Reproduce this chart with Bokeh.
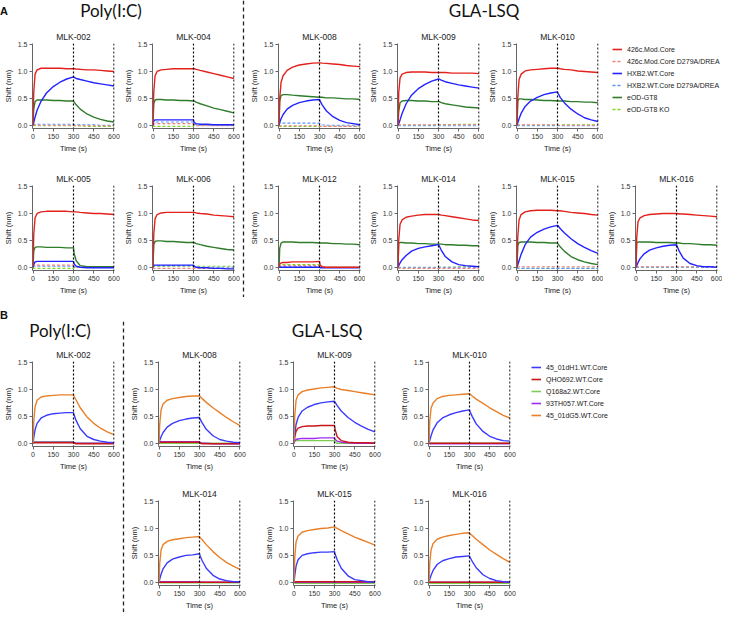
from bokeh.plotting import figure
from bokeh.models import Range1d, FixedTicker, Span, Legend, LegendItem, Div, Spacer
from bokeh.layouts import row, column
from bokeh.embed import file_html
from bokeh.resources import INLINE

# ---------------- data ----------------
T = [0, 5, 15, 30, 60, 100, 150, 200, 250, 300, 305, 320, 350, 400, 450, 500, 550, 600]
xticks = [0, 150, 300, 450, 600]
xtick_labels = ["0", "150", "300", "450", "600"]
yticks = [0.0, 0.5, 1.0, 1.5]
ytick_labels = ["0.0", "0.5", "1.0", "1.5"]
phase_marks = [300, 600]

legend_A = ["426c.Mod.Core", "426c.Mod.Core D279A/DREA", "HXB2.WT.Core",
            "HXB2.WT.Core D279A/DREA", "eOD-GT8", "eOD-GT8 KO"]
legend_B = ["45_01dH1.WT.Core", "QHO692.WT.Core", "Q168a2.WT.Core",
            "93TH057.WT.Core", "45_01dG5.WT.Core"]

# Panel A: Poly(I:C)
a002_red    = [0, 0.60, 0.95, 1.03, 1.06, 1.06, 1.06, 1.06, 1.05, 1.05, 1.05, 1.045, 1.04, 1.03, 1.03, 1.02, 1.01, 1.00]
a002_red_d  = [0, 0.01, 0.01, 0.00, 0.00, 0.00, 0.00, 0.00, 0.00, 0.00, -0.01, -0.01, -0.01, -0.01, -0.01, -0.01, -0.01, -0.01]
a002_blue   = [0, 0.05, 0.15, 0.28, 0.45, 0.60, 0.72, 0.80, 0.86, 0.90, 0.89, 0.87, 0.85, 0.82, 0.79, 0.77, 0.75, 0.73]
a002_blue_d = [0, 0.02, 0.02, 0.02, 0.02, 0.02, 0.02, 0.02, 0.02, 0.02, 0.01, 0.01, 0.01, 0.01, 0.01, 0.00, 0.00, 0.00]
a002_green  = [0, 0.30, 0.44, 0.47, 0.47, 0.47, 0.46, 0.46, 0.45, 0.45, 0.43, 0.38, 0.30, 0.21, 0.15, 0.11, 0.08, 0.06]
a002_lime_d = [0, 0.00, -0.01, -0.01, -0.01, -0.01, -0.01, -0.01, -0.01, -0.01, -0.01, -0.01, -0.01, -0.02, -0.02, -0.02, -0.02, -0.02]

a004_red    = [0, 0.60, 0.92, 1.00, 1.03, 1.04, 1.05, 1.05, 1.05, 1.05, 1.05, 1.04, 1.02, 0.99, 0.96, 0.93, 0.90, 0.87]
a004_red_d  = [0, 0.02, 0.03, 0.03, 0.03, 0.03, 0.03, 0.03, 0.03, 0.03, 0.00, -0.01, -0.01, -0.01, -0.01, -0.01, -0.01, -0.01]
a004_blue   = [0, 0.08, 0.10, 0.10, 0.10, 0.10, 0.10, 0.10, 0.10, 0.10, 0.05, 0.03, 0.02, 0.02, 0.01, 0.01, 0.01, 0.01]
a004_blue_d = [0, 0.05, 0.06, 0.06, 0.06, 0.06, 0.06, 0.06, 0.06, 0.06, 0.02, 0.01, 0.00, 0.00, 0.00, 0.00, 0.00, 0.00]
a004_green  = [0, 0.40, 0.47, 0.48, 0.48, 0.47, 0.47, 0.46, 0.46, 0.45, 0.45, 0.43, 0.40, 0.36, 0.32, 0.29, 0.26, 0.23]
a004_lime_d = [0, -0.02, -0.02, -0.02, -0.02, -0.02, -0.02, -0.02, -0.02, -0.02, 0.00, 0.00, 0.00, 0.00, 0.00, 0.00, 0.00, 0.00]

a005_red    = [0, 0.60, 0.92, 1.00, 1.03, 1.04, 1.04, 1.04, 1.04, 1.03, 1.03, 1.03, 1.02, 1.01, 1.00, 1.00, 0.99, 0.98]
a005_red_d  = [0, 0.03, 0.04, 0.04, 0.04, 0.04, 0.04, 0.04, 0.04, 0.04, 0.01, 0.00, 0.00, 0.00, 0.00, 0.00, 0.00, 0.00]
a005_blue   = [0, 0.05, 0.10, 0.11, 0.11, 0.11, 0.11, 0.11, 0.11, 0.11, 0.06, 0.02, 0.00, -0.01, -0.01, -0.01, -0.01, -0.01]
a005_blue_d = [0, 0.02, 0.02, 0.02, 0.02, 0.02, 0.02, 0.02, 0.02, 0.02, 0.01, 0.00, 0.00, 0.00, 0.00, 0.00, 0.00, 0.00]
a005_green  = [0, 0.30, 0.37, 0.38, 0.38, 0.37, 0.37, 0.37, 0.36, 0.36, 0.25, 0.12, 0.03, 0.01, 0.01, 0.01, 0.01, 0.01]
a005_lime_d = [0, -0.02, -0.02, -0.02, -0.02, -0.02, -0.02, -0.02, -0.02, -0.02, -0.01, 0.00, 0.00, 0.00, 0.00, 0.00, 0.00, 0.00]

a006_red    = [0, 0.60, 0.90, 0.98, 1.01, 1.02, 1.02, 1.02, 1.02, 1.02, 1.02, 1.01, 1.00, 0.99, 0.97, 0.96, 0.95, 0.94]
a006_red_d  = [0, -0.02, -0.02, -0.02, -0.02, -0.02, -0.02, -0.02, -0.02, -0.02, -0.02, -0.02, -0.02, -0.02, -0.02, -0.02, -0.02, -0.02]
a006_blue   = [0, 0.04, 0.04, 0.04, 0.04, 0.04, 0.04, 0.04, 0.04, 0.04, 0.02, 0.00, -0.01, -0.01, -0.02, -0.02, -0.03, -0.03]
a006_blue_d = [0, 0.03, 0.03, 0.03, 0.03, 0.03, 0.03, 0.03, 0.03, 0.03, 0.01, 0.00, 0.00, 0.00, 0.00, 0.00, 0.00, 0.00]
a006_green  = [0, 0.42, 0.48, 0.49, 0.49, 0.48, 0.48, 0.47, 0.46, 0.46, 0.46, 0.44, 0.42, 0.39, 0.37, 0.35, 0.33, 0.32]
a006_lime_d = [0, 0.02, 0.02, 0.02, 0.02, 0.02, 0.02, 0.02, 0.02, 0.02, 0.02, 0.02, 0.02, 0.02, 0.02, 0.02, 0.02, 0.02]

# Panel A: GLA-LSQ
a008_red    = [0, 0.50, 0.80, 0.92, 1.02, 1.08, 1.12, 1.14, 1.155, 1.16, 1.16, 1.155, 1.15, 1.14, 1.13, 1.11, 1.10, 1.09]
a008_red_d  = [0, -0.01, -0.01, -0.01, -0.01, -0.01, -0.01, -0.01, -0.01, -0.01, -0.02, -0.02, -0.02, -0.02, -0.02, -0.02, -0.02, -0.02]
a008_blue   = [0, 0.05, 0.12, 0.20, 0.30, 0.37, 0.42, 0.45, 0.47, 0.48, 0.45, 0.38, 0.27, 0.16, 0.09, 0.05, 0.03, 0.01]
a008_blue_d = [0, 0.04, 0.04, 0.04, 0.04, 0.04, 0.04, 0.04, 0.04, 0.04, 0.02, 0.01, 0.00, 0.00, 0.00, 0.00, 0.00, 0.00]
a008_green  = [0, 0.45, 0.55, 0.57, 0.57, 0.56, 0.55, 0.54, 0.53, 0.52, 0.52, 0.52, 0.51, 0.51, 0.50, 0.49, 0.49, 0.48]
a008_lime_d = [0, -0.02, -0.02, -0.02, -0.02, -0.02, -0.02, -0.02, -0.02, -0.02, -0.02, -0.02, -0.02, -0.02, -0.02, -0.02, -0.02, -0.02]

a009_red    = [0, 0.60, 0.88, 0.95, 0.98, 0.99, 0.99, 0.99, 0.98, 0.98, 0.98, 0.98, 0.98, 0.97, 0.97, 0.97, 0.97, 0.96]
a009_red_d  = [0, 0.01, 0.01, 0.01, 0.01, 0.01, 0.01, 0.01, 0.01, 0.01, 0.01, 0.01, 0.01, 0.01, 0.01, 0.01, 0.01, 0.01]
a009_blue   = [0, 0.03, 0.10, 0.22, 0.40, 0.56, 0.68, 0.76, 0.82, 0.86, 0.86, 0.84, 0.81, 0.78, 0.75, 0.73, 0.71, 0.69]
a009_blue_d = [0, -0.01, -0.01, -0.01, -0.01, -0.01, -0.01, -0.01, -0.01, -0.01, -0.01, -0.01, -0.01, -0.01, -0.01, -0.01, -0.01, -0.01]
a009_green  = [0, 0.25, 0.42, 0.45, 0.46, 0.46, 0.45, 0.45, 0.44, 0.44, 0.44, 0.42, 0.40, 0.38, 0.36, 0.34, 0.33, 0.32]
a009_lime_d = [0, 0.00, 0.00, 0.00, 0.00, 0.00, 0.00, 0.00, 0.00, 0.01, 0.01, 0.01, 0.01, 0.01, 0.02, 0.02, 0.02, 0.02]

a010_red    = [0, 0.50, 0.85, 0.95, 1.01, 1.03, 1.04, 1.05, 1.06, 1.06, 1.06, 1.05, 1.04, 1.03, 1.01, 1.00, 0.99, 0.98]
a010_red_d  = [0, 0.01, 0.01, 0.01, 0.01, 0.01, 0.01, 0.01, 0.01, 0.01, 0.00, 0.00, 0.00, 0.00, 0.00, 0.00, 0.00, 0.00]
a010_blue   = [0, 0.04, 0.12, 0.22, 0.35, 0.45, 0.52, 0.57, 0.60, 0.62, 0.59, 0.52, 0.42, 0.30, 0.21, 0.14, 0.10, 0.07]
a010_blue_d = [0, -0.01, -0.01, -0.01, -0.01, -0.01, -0.01, -0.01, -0.01, -0.01, -0.01, -0.01, -0.01, -0.01, -0.01, -0.01, -0.01, -0.01]
a010_green  = [0, 0.45, 0.49, 0.49, 0.48, 0.48, 0.47, 0.46, 0.46, 0.45, 0.45, 0.45, 0.45, 0.44, 0.44, 0.43, 0.43, 0.42]
a010_lime_d = [0, 0.00, 0.00, 0.00, 0.00, 0.00, 0.00, 0.00, 0.00, 0.00, 0.00, 0.00, 0.01, 0.01, 0.01, 0.01, 0.01, 0.01]

a012_red    = [0, 0.06, 0.08, 0.09, 0.09, 0.10, 0.10, 0.10, 0.10, 0.11, 0.04, 0.01, 0.00, 0.00, 0.00, 0.00, 0.00, 0.00]
a012_red_d  = [0, 0.03, 0.03, 0.03, 0.03, 0.03, 0.03, 0.03, 0.03, 0.03, 0.01, 0.00, 0.00, 0.00, 0.00, 0.00, 0.00, 0.00]
a012_blue   = [0, 0.00, 0.00, 0.00, 0.00, 0.00, 0.00, 0.00, 0.00, 0.00, -0.01, -0.01, -0.01, -0.01, -0.01, -0.01, -0.01, -0.01]
a012_blue_d = [0, 0.01, 0.01, 0.01, 0.01, 0.01, 0.01, 0.01, 0.01, 0.01, 0.00, 0.00, 0.00, 0.00, 0.00, 0.00, 0.00, 0.00]
a012_green  = [0, 0.35, 0.45, 0.47, 0.47, 0.47, 0.46, 0.46, 0.46, 0.45, 0.45, 0.45, 0.45, 0.44, 0.44, 0.43, 0.43, 0.42]
a012_lime_d = [0, 0.04, 0.05, 0.05, 0.05, 0.05, 0.05, 0.05, 0.05, 0.05, 0.01, 0.00, 0.00, 0.00, 0.00, 0.00, 0.00, 0.00]

a014_red    = [0, 0.50, 0.80, 0.88, 0.93, 0.95, 0.97, 0.98, 0.98, 0.98, 0.98, 0.97, 0.96, 0.94, 0.92, 0.90, 0.88, 0.87]
a014_red_d  = [0, -0.02, -0.02, -0.02, -0.02, -0.02, -0.02, -0.02, -0.02, -0.02, -0.02, -0.02, -0.02, -0.02, -0.02, -0.02, -0.02, -0.02]
a014_blue   = [0, 0.03, 0.08, 0.14, 0.22, 0.30, 0.35, 0.38, 0.40, 0.42, 0.40, 0.32, 0.20, 0.10, 0.05, 0.03, 0.02, 0.01]
a014_blue_d = [0, 0.00, 0.00, 0.00, 0.00, 0.00, 0.00, 0.00, 0.00, 0.00, 0.00, 0.00, 0.00, 0.00, 0.00, 0.00, 0.00, 0.00]
a014_green  = [0, 0.45, 0.46, 0.46, 0.45, 0.45, 0.44, 0.44, 0.43, 0.43, 0.43, 0.43, 0.42, 0.42, 0.41, 0.41, 0.40, 0.40]
a014_lime_d = [0, -0.01, -0.01, -0.01, -0.01, -0.01, -0.01, -0.01, -0.01, -0.01, 0.00, 0.00, 0.00, 0.00, 0.01, 0.01, 0.01, 0.01]

a015_red    = [0, 0.55, 0.88, 0.98, 1.03, 1.05, 1.06, 1.06, 1.06, 1.05, 1.05, 1.05, 1.04, 1.02, 1.01, 1.00, 0.98, 0.97]
a015_red_d  = [0, 0.01, 0.01, 0.01, 0.01, 0.01, 0.01, 0.01, 0.01, 0.01, 0.01, 0.01, 0.01, 0.01, 0.01, 0.01, 0.01, 0.01]
a015_blue   = [0, 0.04, 0.12, 0.24, 0.42, 0.56, 0.65, 0.71, 0.75, 0.78, 0.77, 0.72, 0.64, 0.53, 0.44, 0.37, 0.31, 0.26]
a015_blue_d = [0, -0.02, -0.02, -0.02, -0.02, -0.02, -0.02, -0.02, -0.02, -0.02, -0.02, -0.02, -0.02, -0.02, -0.02, -0.02, -0.02, -0.02]
a015_green  = [0, 0.40, 0.46, 0.47, 0.47, 0.47, 0.46, 0.46, 0.45, 0.45, 0.43, 0.38, 0.30, 0.20, 0.14, 0.10, 0.07, 0.05]
a015_lime_d = [0, -0.02, -0.02, -0.02, -0.02, -0.02, -0.02, -0.02, -0.02, -0.02, -0.02, -0.02, -0.02, -0.02, -0.02, -0.02, -0.02, -0.02]

a016_red    = [0, 0.55, 0.85, 0.92, 0.96, 0.98, 0.99, 1.00, 1.00, 1.00, 1.00, 0.99, 0.99, 0.98, 0.97, 0.96, 0.95, 0.94]
a016_red_d  = [0, 0.01, 0.01, 0.01, 0.01, 0.01, 0.01, 0.01, 0.01, 0.01, 0.01, 0.01, 0.01, 0.01, 0.01, 0.01, 0.01, 0.01]
a016_blue   = [0, 0.03, 0.09, 0.16, 0.25, 0.32, 0.36, 0.39, 0.41, 0.42, 0.39, 0.30, 0.17, 0.07, 0.03, 0.01, 0.01, 0.00]
a016_blue_d = [0, 0.00, 0.00, 0.00, 0.00, 0.00, 0.00, 0.00, 0.00, 0.00, 0.00, 0.00, 0.00, 0.00, 0.00, 0.00, 0.00, 0.00]
a016_green  = [0, 0.45, 0.47, 0.47, 0.47, 0.47, 0.46, 0.46, 0.46, 0.45, 0.45, 0.45, 0.44, 0.44, 0.43, 0.42, 0.42, 0.41]
a016_lime_d = [0, 0.00, 0.00, 0.00, 0.00, 0.00, 0.00, 0.00, 0.00, 0.00, 0.00, 0.00, 0.00, 0.00, 0.00, 0.00, 0.00, 0.00]

# Panel B
b002_blue   = [0, 0.10, 0.25, 0.37, 0.47, 0.52, 0.55, 0.56, 0.57, 0.57, 0.52, 0.42, 0.27, 0.13, 0.07, 0.04, 0.02, 0.01]
b002_red    = [0, 0.01, 0.01, 0.01, 0.01, 0.01, 0.01, 0.01, 0.01, 0.01, 0.00, -0.01, -0.01, -0.01, -0.01, -0.01, -0.01, -0.01]
b002_green  = [0, 0.03, 0.03, 0.03, 0.03, 0.03, 0.03, 0.03, 0.03, 0.03, 0.01, 0.00, 0.00, 0.00, 0.00, 0.00, 0.00, 0.00]
b002_purple = [0, 0.02, 0.02, 0.02, 0.02, 0.02, 0.02, 0.02, 0.02, 0.02, 0.01, 0.00, 0.00, 0.00, 0.00, 0.00, 0.00, 0.00]
b002_orange = [0, 0.40, 0.68, 0.80, 0.86, 0.88, 0.89, 0.90, 0.90, 0.90, 0.87, 0.80, 0.66, 0.49, 0.37, 0.28, 0.21, 0.16]

b008_blue   = [0, 0.05, 0.12, 0.20, 0.30, 0.37, 0.42, 0.45, 0.47, 0.48, 0.45, 0.38, 0.26, 0.14, 0.07, 0.04, 0.02, 0.01]
b008_red    = [0, 0.02, 0.02, 0.02, 0.02, 0.02, 0.02, 0.02, 0.02, 0.02, 0.00, -0.01, -0.01, -0.01, -0.01, -0.01, -0.01, -0.01]
b008_green  = [0, 0.00, 0.00, 0.00, 0.00, 0.00, 0.00, 0.00, 0.00, 0.00, 0.00, 0.00, 0.00, 0.00, 0.00, 0.00, 0.00, 0.00]
b008_purple = [0, 0.03, 0.03, 0.03, 0.03, 0.03, 0.03, 0.03, 0.03, 0.03, 0.01, 0.00, 0.00, -0.01, -0.01, -0.01, -0.01, -0.01]
b008_orange = [0, 0.35, 0.62, 0.73, 0.80, 0.83, 0.85, 0.87, 0.88, 0.88, 0.87, 0.83, 0.76, 0.66, 0.57, 0.48, 0.40, 0.33]

b009_blue   = [0, 0.15, 0.35, 0.48, 0.60, 0.67, 0.72, 0.75, 0.77, 0.78, 0.76, 0.70, 0.60, 0.48, 0.39, 0.32, 0.26, 0.21]
b009_red    = [0, 0.12, 0.22, 0.28, 0.31, 0.32, 0.32, 0.33, 0.33, 0.33, 0.25, 0.12, 0.05, 0.02, 0.01, 0.01, 0.01, 0.00]
b009_green  = [0, 0.04, 0.05, 0.05, 0.05, 0.05, 0.05, 0.05, 0.05, 0.05, 0.02, 0.00, 0.00, 0.00, 0.00, 0.00, 0.00, 0.00]
b009_purple = [0, 0.04, 0.07, 0.08, 0.09, 0.09, 0.09, 0.10, 0.10, 0.10, 0.07, 0.04, 0.02, 0.01, 0.00, 0.00, 0.00, 0.00]
b009_orange = [0, 0.50, 0.80, 0.90, 0.96, 0.99, 1.01, 1.03, 1.04, 1.05, 1.04, 1.02, 1.00, 0.98, 0.96, 0.94, 0.92, 0.90]

b010_blue   = [0, 0.05, 0.14, 0.25, 0.38, 0.47, 0.53, 0.57, 0.60, 0.62, 0.58, 0.50, 0.36, 0.22, 0.13, 0.08, 0.05, 0.04]
b010_red    = [0, 0.00, 0.00, 0.00, 0.00, 0.00, 0.00, 0.00, 0.00, 0.00, 0.00, 0.00, 0.00, 0.00, 0.00, 0.00, 0.00, 0.00]
b010_green  = [0, 0.00, 0.00, 0.00, 0.00, 0.00, 0.00, 0.00, 0.00, 0.00, 0.00, 0.00, 0.00, 0.00, 0.00, 0.00, 0.00, 0.00]
b010_purple = [0, -0.01, -0.01, -0.01, -0.01, -0.01, -0.01, -0.01, -0.01, -0.01, -0.01, -0.01, -0.01, -0.01, -0.01, -0.01, -0.01, -0.01]
b010_orange = [0, 0.40, 0.65, 0.75, 0.83, 0.87, 0.89, 0.90, 0.91, 0.92, 0.91, 0.88, 0.82, 0.74, 0.66, 0.59, 0.52, 0.47]

b014_blue   = [0, 0.06, 0.15, 0.25, 0.36, 0.43, 0.47, 0.50, 0.51, 0.53, 0.49, 0.40, 0.26, 0.13, 0.06, 0.03, 0.01, 0.01]
b014_red    = [0, 0.00, 0.00, 0.00, 0.00, 0.00, 0.00, 0.00, 0.00, 0.00, 0.00, 0.00, 0.00, 0.00, 0.00, 0.00, 0.00, 0.00]
b014_green  = [0, -0.01, -0.01, -0.01, -0.01, -0.01, -0.01, -0.01, -0.01, -0.01, -0.01, -0.01, -0.01, -0.01, -0.01, -0.01, -0.01, -0.01]
b014_purple = [0, 0.01, 0.01, 0.01, 0.01, 0.01, 0.01, 0.01, 0.01, 0.01, 0.00, 0.00, 0.00, 0.00, 0.00, 0.00, 0.00, 0.00]
b014_orange = [0, 0.35, 0.60, 0.70, 0.76, 0.79, 0.81, 0.83, 0.84, 0.85, 0.83, 0.79, 0.70, 0.57, 0.46, 0.37, 0.30, 0.24]

b015_blue   = [0, 0.12, 0.30, 0.42, 0.50, 0.53, 0.55, 0.56, 0.56, 0.57, 0.52, 0.42, 0.26, 0.12, 0.05, 0.03, 0.01, 0.00]
b015_red    = [0, 0.01, 0.01, 0.01, 0.01, 0.01, 0.01, 0.01, 0.01, 0.01, 0.01, 0.01, 0.01, 0.01, 0.01, 0.01, 0.01, 0.01]
b015_green  = [0, -0.02, -0.02, -0.02, -0.02, -0.02, -0.02, -0.02, -0.02, -0.02, -0.02, -0.02, -0.02, -0.02, -0.02, -0.02, -0.02, -0.02]
b015_purple = [0, 0.00, 0.00, 0.00, 0.00, 0.00, 0.00, 0.00, 0.00, 0.00, 0.00, 0.00, 0.00, 0.00, 0.00, 0.00, 0.00, 0.00]
b015_orange = [0, 0.45, 0.75, 0.86, 0.93, 0.96, 0.98, 1.00, 1.01, 1.03, 1.02, 1.00, 0.96, 0.90, 0.84, 0.79, 0.74, 0.69]

b016_blue   = [0, 0.05, 0.13, 0.22, 0.33, 0.40, 0.44, 0.47, 0.48, 0.49, 0.46, 0.39, 0.27, 0.14, 0.07, 0.03, 0.01, 0.00]
b016_red    = [0, 0.00, 0.00, 0.00, 0.00, 0.00, 0.00, 0.00, 0.00, 0.00, 0.00, 0.00, 0.00, 0.00, 0.00, 0.00, 0.00, 0.00]
b016_green  = [0, -0.02, -0.02, -0.02, -0.02, -0.02, -0.02, -0.02, -0.02, -0.02, -0.02, -0.02, -0.02, -0.02, -0.02, -0.02, -0.02, -0.02]
b016_purple = [0, 0.00, 0.00, 0.00, 0.00, 0.00, 0.00, 0.00, 0.00, 0.00, 0.00, 0.00, 0.00, 0.00, 0.00, 0.00, 0.00, 0.00]
b016_orange = [0, 0.35, 0.60, 0.72, 0.80, 0.84, 0.87, 0.89, 0.91, 0.92, 0.90, 0.87, 0.80, 0.70, 0.60, 0.52, 0.44, 0.37]

# ---------------- styles ----------------
FONT = "Liberation Sans"
HEAD_FONT = "Lato"
STY_A = [("#e3211c", "solid", 1.4), ("#f08080", "3 2", 1.1), ("#2323ff", "solid", 1.4),
         ("#5b95ff", "3 2", 1.1), ("#2f7d2a", "solid", 1.4), ("#80d623", "3 2", 1.1)]
STY_B = [("#3a3aff", "solid", 1.4), ("#c8141b", "solid", 1.4), ("#7dcc52", "solid", 1.4),
         ("#a02cf0", "solid", 1.4), ("#e8802a", "solid", 1.4)]
DRAW_ORDER_A = [5, 3, 1, 4, 2, 0]
DRAW_ORDER_B = [2, 3, 1, 0, 4]

FH = 86
TOP = 21
BOT = 26
FIG_H = TOP + FH + BOT
ROW_H = 12
NAN = float("nan")


def base_fig(title, width, left=28):
    right = width - left - 86
    p = figure(width=width, height=FIG_H, x_range=Range1d(-4, 604), y_range=Range1d(-0.06, 1.52),
               output_backend="svg", toolbar_location=None,
               min_border_left=left, min_border_right=right, min_border_top=TOP, min_border_bottom=BOT)
    p.outline_line_color = None
    p.grid.visible = False
    p.title.text = title
    p.title.align = "center"
    p.title.text_font = FONT
    p.title.text_font_size = "8.5px"
    p.title.text_font_style = "normal"
    p.title.text_color = "#222222"
    p.title.standoff = 3
    p.xaxis.ticker = FixedTicker(ticks=xticks)
    p.xaxis.major_label_overrides = {t: s for t, s in zip(xticks, xtick_labels)}
    p.yaxis.ticker = FixedTicker(ticks=yticks)
    p.yaxis.major_label_overrides = {t: s for t, s in zip(yticks, ytick_labels)}
    p.xaxis.axis_label = "Time (s)"
    p.yaxis.axis_label = "Shift (nm)"
    for ax in (p.xaxis, p.yaxis):
        ax.axis_label_text_font = FONT
        ax.axis_label_text_font_size = "7.5px"
        ax.axis_label_text_font_style = "normal"
        ax.axis_label_text_color = "#222222"
        ax.axis_label_standoff = 2
        ax.major_label_text_font = FONT
        ax.major_label_text_font_size = "7px"
        ax.major_label_text_color = "#333333"
        ax.major_label_standoff = 2
        ax.major_tick_out = 3
        ax.major_tick_in = 0
        ax.minor_tick_out = 0
        ax.minor_tick_in = 0
        ax.axis_line_color = "#666666"
        ax.major_tick_line_color = "#666666"
    for loc in phase_marks:
        p.add_layout(Span(location=loc, dimension="height", line_color="black",
                          line_dash="2 2", line_width=1.2))
    return p


def panel_a(title, series, width, left=28):
    p = base_fig(title, width, left)
    for i in DRAW_ORDER_A:
        c, d, w = STY_A[i]
        p.line(T, series[i], line_color=c, line_dash=d, line_width=w)
    return p


def panel_b(title, series, width, left=28):
    p = base_fig(title, width, left)
    for i in DRAW_ORDER_B:
        c, d, w = STY_B[i]
        p.line(T, series[i], line_color=c, line_dash=d, line_width=w)
    return p


def legend_fig(labels, styles, width, x0, top):
    p = figure(width=width, height=FIG_H, x_range=Range1d(0, 1), y_range=Range1d(0, 1),
               output_backend="svg", toolbar_location=None, title=None,
               min_border_left=x0, min_border_right=0, min_border_top=top, min_border_bottom=0)
    p.axis.visible = False
    p.grid.visible = False
    p.outline_line_color = None
    items = []
    for lab, (c, d, w) in zip(labels, styles):
        # a single missing value: nothing is drawn in the frame, only the legend key
        r = p.line([NAN], [NAN], line_color=c, line_dash=d, line_width=w + 0.2)
        items.append(LegendItem(label=lab, renderers=[r]))
    lg = Legend(items=items, location="top_left", border_line_color=None,
                background_fill_alpha=0, label_text_font=FONT, label_text_font_size="7px",
                label_text_color="#222222", glyph_width=10, glyph_height=ROW_H, label_height=ROW_H,
                spacing=0, padding=0, margin=0, label_standoff=5)
    p.add_layout(lg, "center")
    return p


def separator(height):
    p = figure(width=6, height=height, x_range=Range1d(0, 1), y_range=Range1d(0, 1),
               output_backend="svg", toolbar_location=None,
               min_border_left=0, min_border_right=0, min_border_top=0, min_border_bottom=0)
    p.axis.visible = False
    p.grid.visible = False
    p.outline_line_color = None
    p.add_layout(Span(location=0.5, dimension="height", line_color="#222222",
                      line_dash="4 3", line_width=1.3))
    return p


def head(text, width, height, size="17px", weight="normal", align="center", family=HEAD_FONT):
    return Div(text=text, width=width, height=height, margin=0,
               styles={"font-family": family, "font-size": size, "font-weight": weight,
                       "text-align": align, "line-height": f"{height}px", "color": "#111111"})


# ---------------- panel A ----------------
fa002 = panel_a("MLK-002", [a002_red, a002_red_d, a002_blue, a002_blue_d, a002_green, a002_lime_d], 120)
fa004 = panel_a("MLK-004", [a004_red, a004_red_d, a004_blue, a004_blue_d, a004_green, a004_lime_d], 120)
fa005 = panel_a("MLK-005", [a005_red, a005_red_d, a005_blue, a005_blue_d, a005_green, a005_lime_d], 120)
fa006 = panel_a("MLK-006", [a006_red, a006_red_d, a006_blue, a006_blue_d, a006_green, a006_lime_d], 120)
fa008 = panel_a("MLK-008", [a008_red, a008_red_d, a008_blue, a008_blue_d, a008_green, a008_lime_d], 119)
fa009 = panel_a("MLK-009", [a009_red, a009_red_d, a009_blue, a009_blue_d, a009_green, a009_lime_d], 119)
fa010 = panel_a("MLK-010", [a010_red, a010_red_d, a010_blue, a010_blue_d, a010_green, a010_lime_d], 119)
fa012 = panel_a("MLK-012", [a012_red, a012_red_d, a012_blue, a012_blue_d, a012_green, a012_lime_d], 119)
fa014 = panel_a("MLK-014", [a014_red, a014_red_d, a014_blue, a014_blue_d, a014_green, a014_lime_d], 119)
fa015 = panel_a("MLK-015", [a015_red, a015_red_d, a015_blue, a015_blue_d, a015_green, a015_lime_d], 119)
fa016 = panel_a("MLK-016", [a016_red, a016_red_d, a016_blue, a016_blue_d, a016_green, a016_lime_d], 119)
lega = legend_fig(legend_A, STY_A, 119, 9, 21)

HEAD_A = 22
leftA = column(
    row(head("A", 14, HEAD_A, size="11px", weight="bold", align="left", family=FONT),
        head("Poly(I:C)", 194, HEAD_A), Spacer(width=32, height=HEAD_A)),
    row(fa002, fa004), Spacer(width=240, height=9), row(fa005, fa006))
rightA = column(
    head("GLA-LSQ", 476, HEAD_A),
    row(fa008, fa009, fa010, lega), Spacer(width=476, height=9), row(fa012, fa014, fa015, fa016))
blockA = row(leftA, separator(HEAD_A + FIG_H * 2 + 9), rightA)

# ---------------- panel B ----------------
fb002 = panel_b("MLK-002", [b002_blue, b002_red, b002_green, b002_purple, b002_orange], 120)
fb008 = panel_b("MLK-008", [b008_blue, b008_red, b008_green, b008_purple, b008_orange], 135)
fb009 = panel_b("MLK-009", [b009_blue, b009_red, b009_green, b009_purple, b009_orange], 135)
fb010 = panel_b("MLK-010", [b010_blue, b010_red, b010_green, b010_purple, b010_orange], 135)
fb014 = panel_b("MLK-014", [b014_blue, b014_red, b014_green, b014_purple, b014_orange], 135)
fb015 = panel_b("MLK-015", [b015_blue, b015_red, b015_green, b015_purple, b015_orange], 135)
fb016 = panel_b("MLK-016", [b016_blue, b016_red, b016_green, b016_purple, b016_orange], 135)
legb = legend_fig(legend_B, STY_B, 180, 0, 18)

HEAD_B = 19
leftB = column(head("Poly(I:C)", 120, HEAD_B), fb002, Spacer(width=120, height=FIG_H + 6))
rightB = column(head("GLA-LSQ", 402, HEAD_B), row(fb008, fb009, fb010, legb),
                Spacer(width=405, height=6), row(fb014, fb015, fb016))
blockB = row(leftB, separator(HEAD_B + FIG_H * 2 + 6), rightB)

page = column(blockA, Spacer(width=700, height=12),
              head("B", 20, 12, size="11px", weight="bold", align="left", family=FONT),
              blockB)

open("out.html", "w").write(file_html(page, INLINE))
